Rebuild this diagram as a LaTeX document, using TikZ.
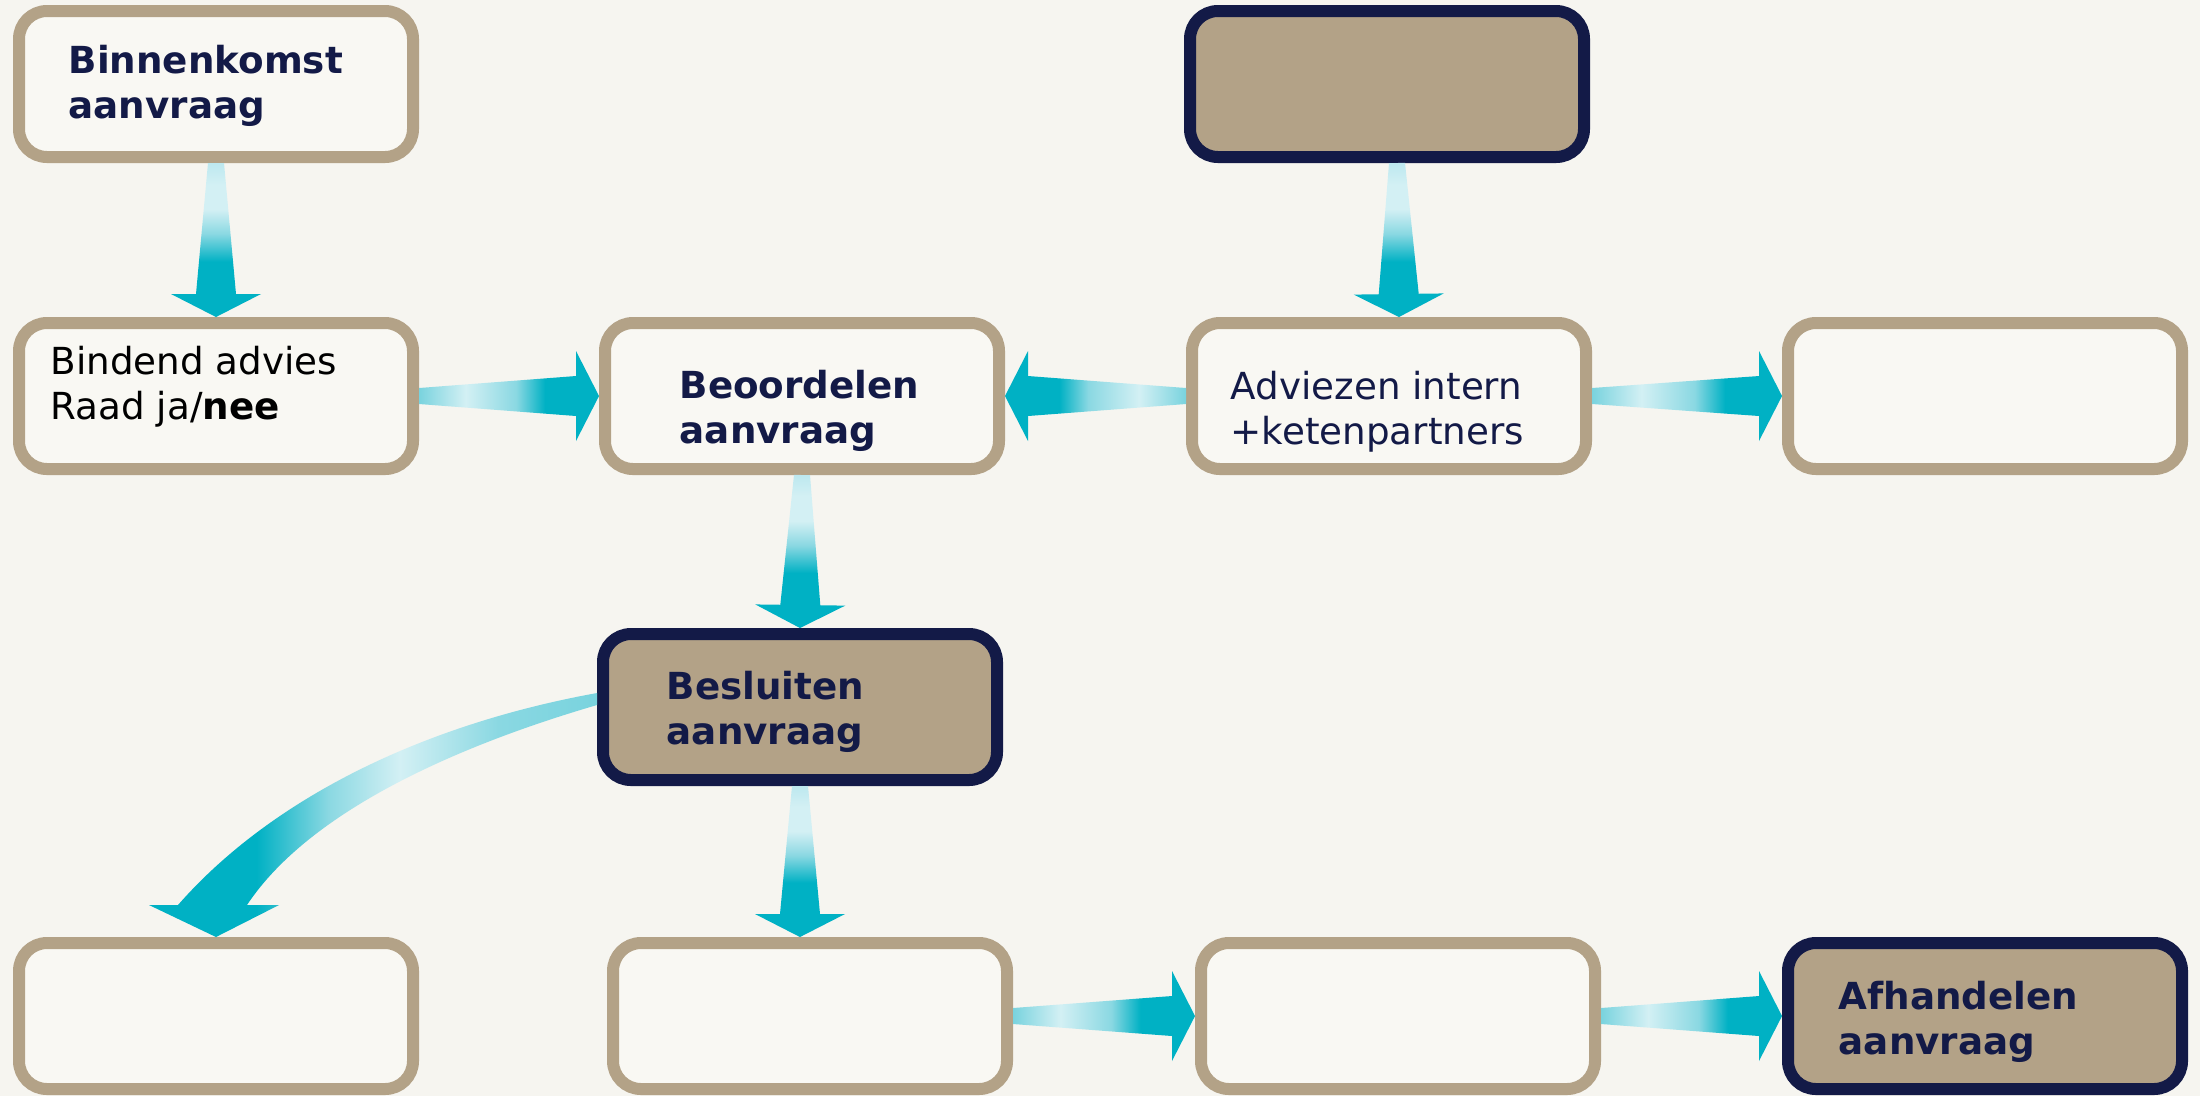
\documentclass[tikz,border=0pt]{standalone}
\usepackage{fontspec}
\setmainfont{DejaVu Sans}
\usetikzlibrary{calc, positioning}

\definecolor{paper}{HTML}{F6F5F0}
\definecolor{boxfill}{HTML}{F9F8F3}
\definecolor{boxline}{HTML}{B3A287}
\definecolor{darkline}{HTML}{131A47}
\definecolor{flowteal}{HTML}{00B1C4}
\definecolor{flowmid}{HTML}{8AD8E2}
\definecolor{flowpale}{HTML}{D3F0F4}
\definecolor{flowlight}{HTML}{BDE8EF}
\definecolor{flowstart}{HTML}{79D3DE}

\pgfdeclareverticalshading{flowdown}{100bp}{color(0bp)=(flowteal); color(43bp)=(flowteal); color(52bp)=(flowmid); color(60bp)=(flowpale); color(68bp)=(flowpale); color(75bp)=(flowlight); color(100bp)=(flowlight)}
\pgfdeclarehorizontalshading{flowright}{100bp}{color(0bp)=(flowstart); color(25bp)=(flowstart); color(38bp)=(flowpale); color(52bp)=(flowmid); color(60bp)=(flowteal); color(100bp)=(flowteal)}
\pgfdeclarehorizontalshading{flowcurve}{100bp}{color(0bp)=(flowteal); color(37bp)=(flowteal); color(45bp)=(flowmid); color(53bp)=(flowpale); color(64bp)=(flowmid); color(75bp)=(flowstart); color(100bp)=(flowstart)}

\tikzset{
  box/.style={draw=boxline, fill=boxfill, line width=.12cm, rounded corners=.28cm,
    minimum width=3.94cm, minimum height=1.46cm, inner sep=0pt},
  keybox/.style={box, draw=darkline, fill=boxline},
  lbl/.style={anchor=base west, align=left, inner sep=0pt, text=darkline,
    font=\fontsize{10.6pt}{12.7pt}\selectfont},
  lblb/.style={lbl, font=\fontsize{10.6pt}{12.7pt}\selectfont\bfseries},
  flow/.style={shade, shading=flowdown, to path={
      ($(\tikztostart)!.08cm!90:(\tikztotarget)$)
   -- ($($(\tikztotarget)!.23cm!(\tikztostart)$)!.2cm!90:(\tikztotarget)$)
   -- ($($(\tikztotarget)!.23cm!(\tikztostart)$)!.45cm!90:(\tikztotarget)$)
   -- (\tikztotarget)
   -- ($($(\tikztotarget)!.23cm!(\tikztostart)$)!.45cm!-90:(\tikztotarget)$)
   -- ($($(\tikztotarget)!.23cm!(\tikztostart)$)!.2cm!-90:(\tikztotarget)$)
   -- ($(\tikztostart)!.08cm!-90:(\tikztotarget)$) -- cycle}},
  flowh/.style={flow, shading=flowright},
  flowl/.style={flowh, shading angle=180},
}

\begin{document}
\begin{tikzpicture}
    \fill[paper] (0,0) rectangle (22,-10.96);
    \useasboundingbox (0,0) rectangle (22,-10.96);

    % boxes
    \node[box]    (A) at (2.16,-0.84) {};
    \node[keybox] (B) at (13.87,-0.84) {};
    \node[box]    (C) at (2.16,-3.96) {};
    \node[box]    (D) at (8.02,-3.96) {};
    \node[box]    (E) at (13.89,-3.96) {};
    \node[box]    (F) at (19.85,-3.96) {};
    \node[keybox] (G) at (8.00,-7.07) {};
    \node[box]    (H) at (2.16,-10.16) {};
    \node[box]    (I) at (8.10,-10.16) {};
    \node[box]    (J) at (13.98,-10.16) {};
    \node[keybox] (K) at (19.85,-10.16) {};

    % texts (base = last line)
    \node[lblb] (A-t) at ([shift={(-1.48,-.34)}]A.center) {Binnenkomst\\aanvraag};
    \node[lbl, text=black] (C-t) at ([shift={(-1.66,-.23)}]C.center) {Bindend advies\\Raad ja/\textbf{nee}};
    \node[lblb] (D-t) at ([shift={(-1.23,-.47)}]D.center) {Beoordelen\\aanvraag};
    \node[lbl]  (E-t) at ([shift={(-1.59,-.48)}]E.center) {Adviezen intern\\+ketenpartners};
    \node[lblb] (G-t) at ([shift={(-1.34,-.37)}]G.center) {Besluiten\\aanvraag};
    \node[lblb] (K-t) at ([shift={(-1.47,-.38)}]K.center) {Afhandelen\\aanvraag};

    % arrows
    \coordinate (B-out) at ([xshift=.1cm]B.south);
    \coordinate (E-in) at ([xshift=.1cm]E.north);
    \coordinate (I-top) at (G.south |- I.north);
    \path[flow]  (A.south) to (C.north);
    \path[flow]  (B-out) to (E-in);
    \path[flowh] (C.east) to (D.west);
    \path[flowl] (E.west) to (D.east);
    \path[flowh] (E.east) to (F.west);
    \path[flow]  (D.south) to (G.north);
    \path[flow]  (G.south) to (I-top);
    \path[flowh] (I.east) to (J.west);
    \path[flowh] (J.east) to (K.west);
    \path[shade, shading=flowcurve] ([yshift=.14cm]G.west)
        .. controls (4.20,-7.25) and (2.70,-8.00) .. ([shift={(-.38,.32)}]H.north)
        -- ([shift={(-.67,.32)}]H.north) -- (H.north) -- ([shift={(.63,.32)}]H.north)
        -- ([shift={(.31,.32)}]H.north)
        .. controls (3.10,-8.10) and (4.60,-7.45) .. ([yshift=.02cm]G.west) -- cycle;
\end{tikzpicture}
\end{document}
